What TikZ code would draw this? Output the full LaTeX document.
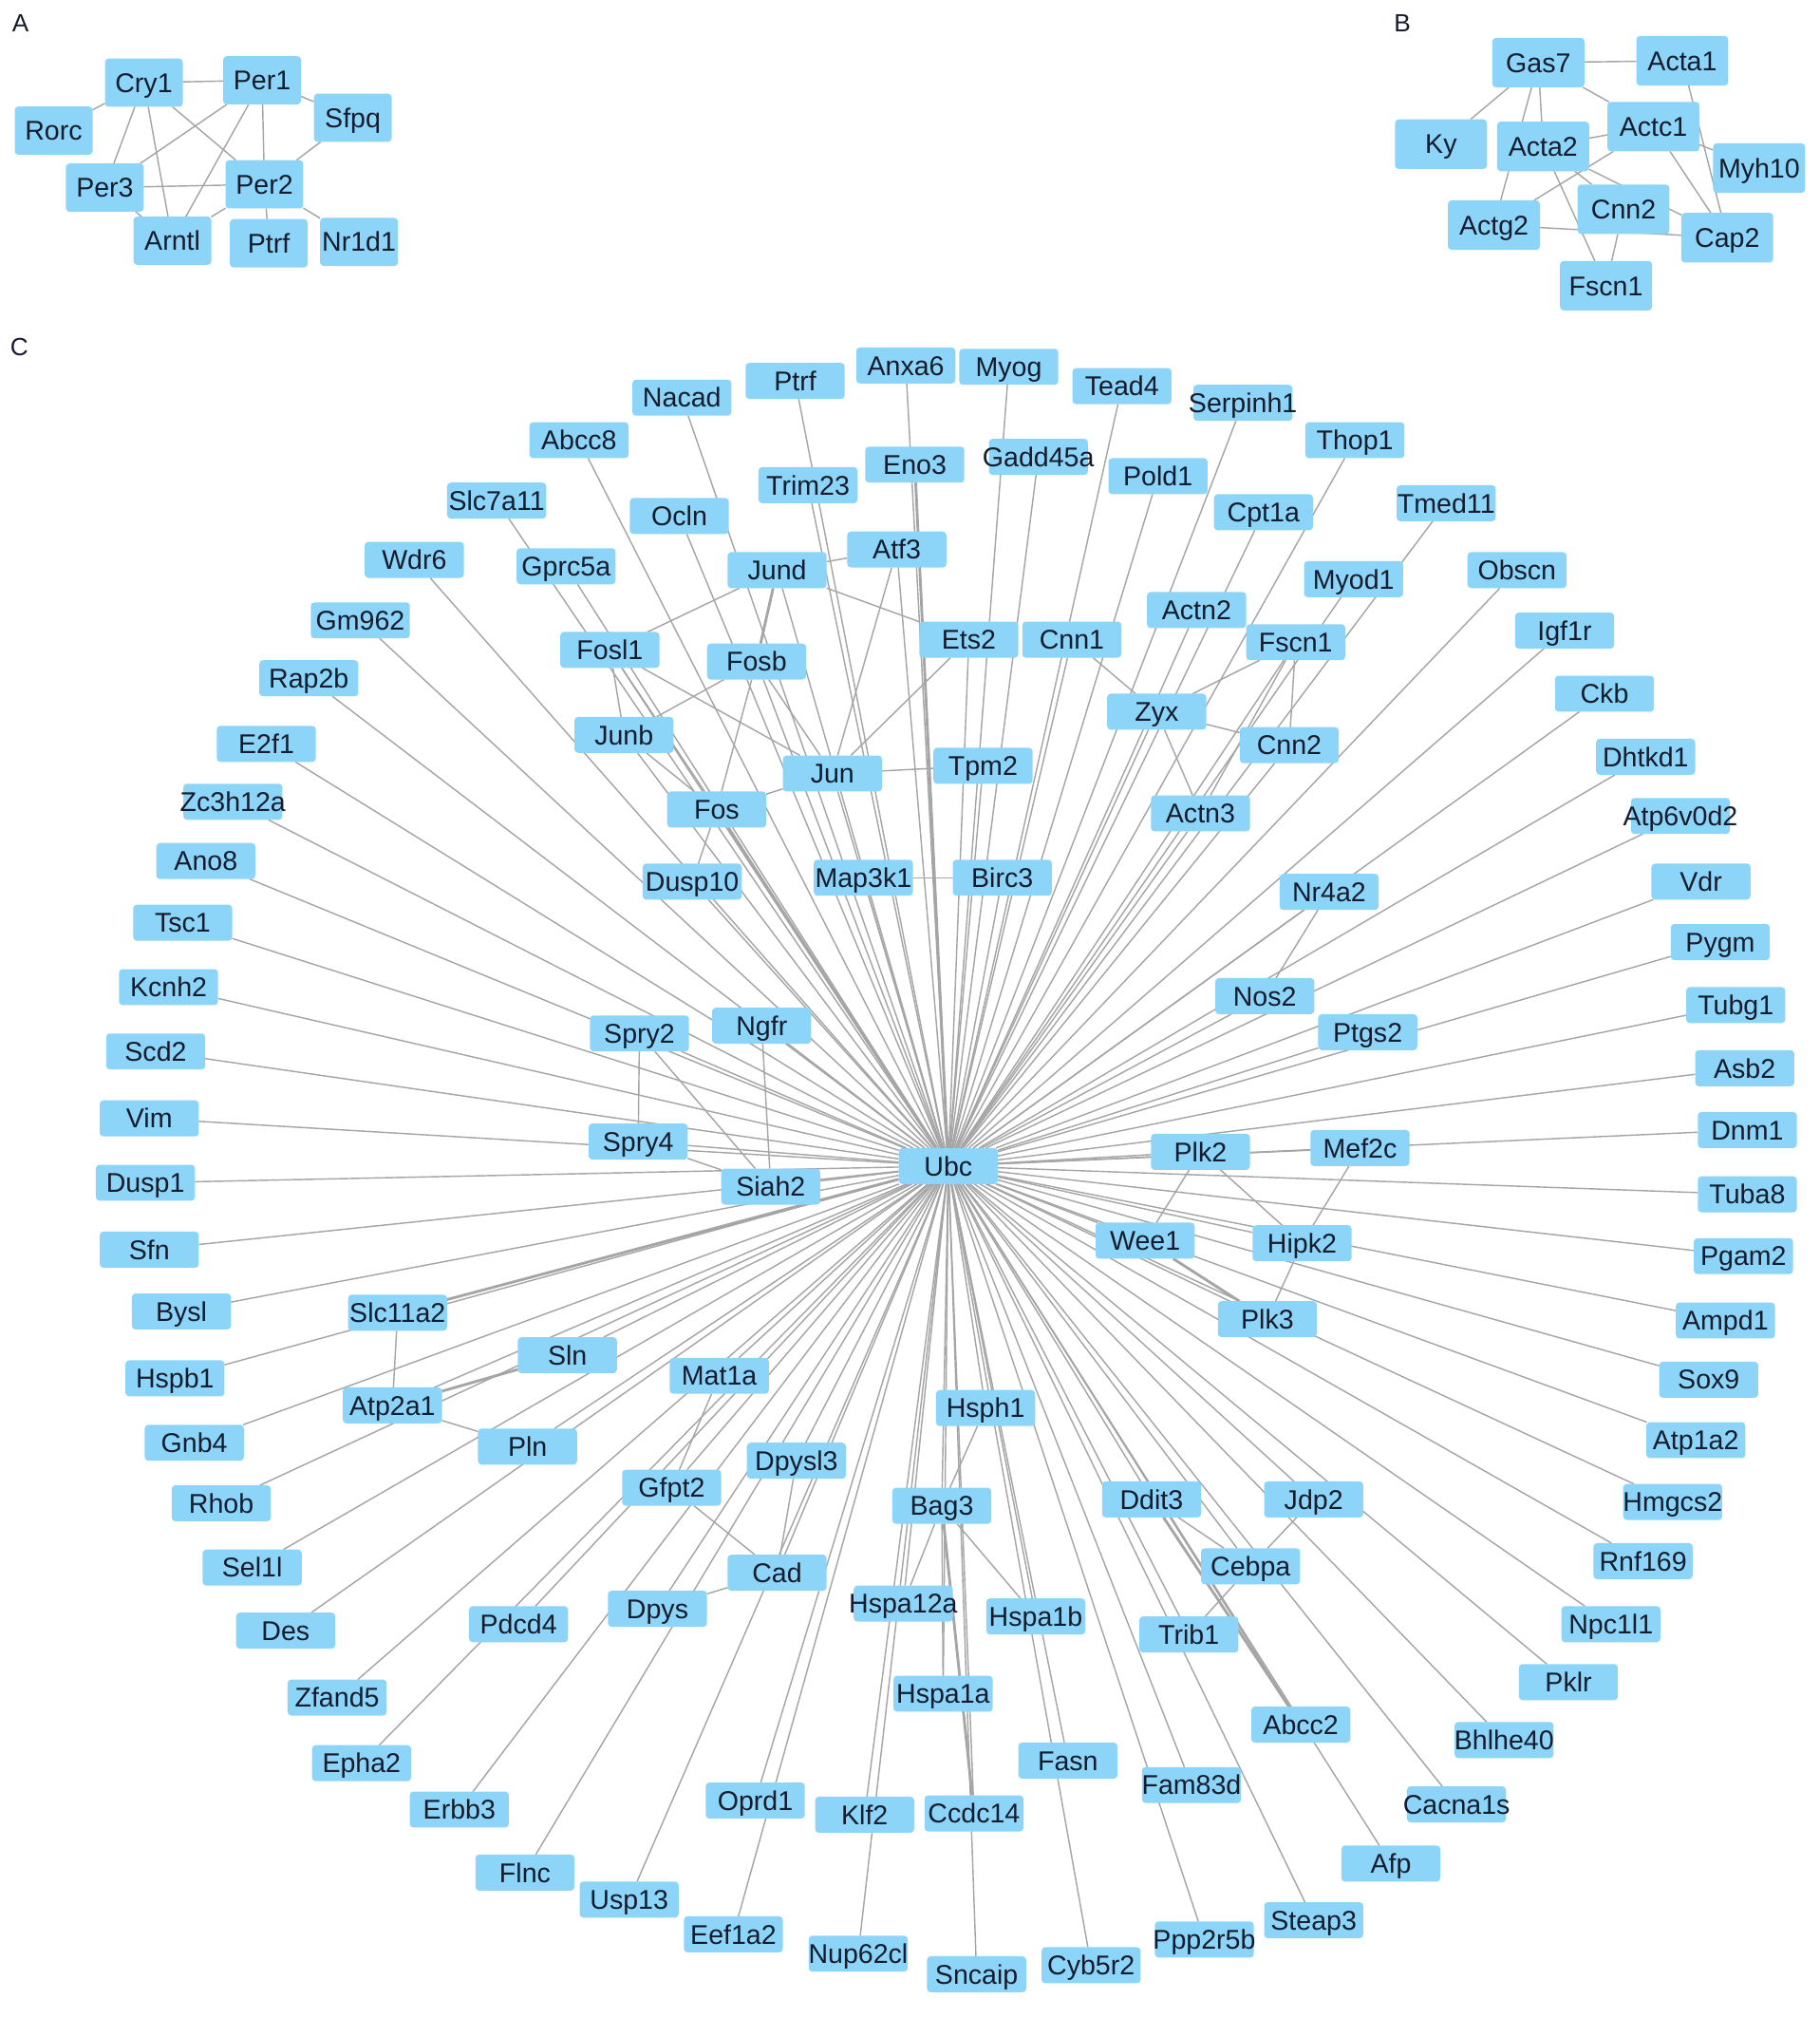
\documentclass[tikz,border=0pt]{standalone}
\usepackage{fontspec}
\setmainfont{Liberation Sans}
\usetikzlibrary{backgrounds}
\definecolor{boxblue}{RGB}{140,213,249}
\definecolor{edgegray}{RGB}{165,165,165}
\definecolor{txt}{RGB}{20,28,45}
\tikzset{
  gbase/.style={rectangle, rounded corners=1.6pt, fill=boxblue, inner sep=0pt, outer sep=0pt, text=txt, font=\fontsize{12}{14}\selectfont, text height=0.40cm, text depth=0.10cm},
  cbox/.style={gbase, minimum width=1.54cm, minimum height=0.56cm},
  abox/.style={gbase, minimum width=1.21cm, minimum height=0.75cm},
  bbox/.style={gbase, minimum width=1.43cm, minimum height=0.77cm},
  edge/.style={draw=edgegray, line width=0.6pt},
  hedge/.style={draw=edgegray, line width=1.2pt},
  plabel/.style={font=\fontsize{11}{13}\selectfont, text=txt, inner sep=0pt}
}
\newcommand\mkC[2]{\node[cbox] (c#2) at (#1) {\makebox[0pt]{#2}};}
\newcommand\mkA[2]{\node[abox] (a#2) at (#1) {\makebox[0pt]{#2}};}
\newcommand\mkB[2]{\node[bbox] (b#2) at (#1) {\makebox[0pt]{#2}};}
\begin{document}
\begin{tikzpicture}[x=0.02cm, y=-0.02cm]
\useasboundingbox (0,0) rectangle (1414,1568);
% panel labels
\node[plabel] (pA) at (16,18) {A};
\node[plabel] (pB) at (1090,18) {B};
\node[plabel] (pC) at (15,270) {C};
% ---------- panel A
\mkA{111.8,64.2}{Cry1}
\mkA{203.7,62.4}{Per1}
\mkA{41.7,101.5}{Rorc}
\mkA{274.2,91.5}{Sfpq}
\mkA{81.5,145.8}{Per3}
\mkA{205.5,143.2}{Per2}
\mkA{134,187}{Arntl}
\mkA{208.9,189}{Ptrf}
\mkA{279,188}{Nr1d1}
% ---------- panel B
\mkB{1195.6,48.6}{Gas7}
\mkB{1307.5,47.2}{Acta1}
\mkB{1120,112}{Ky}
\mkB{1199.3,113.8}{Acta2}
\mkB{1285.1,98.4}{Actc1}
\mkB{1367.2,130.6}{Myh10}
\mkB{1161.1,174.9}{Actg2}
\mkB{1261.8,162.6}{Cnn2}
\mkB{1342.4,184.7}{Cap2}
\mkB{1248.2,222}{Fscn1}
% ---------- panel C outer ring
\mkC{618,296}{Ptrf}
\mkC{530,309}{Nacad}
\mkC{704,284}{Anxa6}
\mkC{784,285}{Myog}
\mkC{872,300}{Tead4}
\mkC{966,313}{Serpinh1}
\mkC{1053,342}{Thop1}
\mkC{1124,391}{Tmed11}
\mkC{1179,443}{Obscn}
\mkC{1216,490}{Igf1r}
\mkC{1247,539}{Ckb}
\mkC{1279,588}{Dhtkd1}
\mkC{1306,634}{Atp6v0d2}
\mkC{1322,685}{Vdr}
\mkC{1337,732}{Pygm}
\mkC{1349,781}{Tubg1}
\mkC{1356,830}{Asb2}
\mkC{1358,878}{Dnm1}
\mkC{1358,928}{Tuba8}
\mkC{1355,976}{Pgam2}
\mkC{1341,1026}{Ampd1}
\mkC{1328,1072}{Sox9}
\mkC{1318,1119}{Atp1a2}
\mkC{1300,1167}{Hmgcs2}
\mkC{1277,1213}{Rnf169}
\mkC{1252,1262}{Npc1l1}
\mkC{1219,1307}{Pklr}
\mkC{1169,1352}{Bhlhe40}
\mkC{1132,1402}{Cacna1s}
\mkC{1081,1448}{Afp}
\mkC{1021,1492}{Steap3}
\mkC{936,1507}{Ppp2r5b}
\mkC{848,1527}{Cyb5r2}
\mkC{759,1534}{Sncaip}
\mkC{667,1518}{Nup62cl}
\mkC{570,1503}{Eef1a2}
\mkC{489,1476}{Usp13}
\mkC{408,1455}{Flnc}
\mkC{357,1406}{Erbb3}
\mkC{281,1370}{Epha2}
\mkC{262,1319}{Zfand5}
\mkC{222,1267}{Des}
\mkC{196,1218}{Sel1l}
\mkC{172,1168}{Rhob}
\mkC{151,1121}{Gnb4}
\mkC{136,1071}{Hspb1}
\mkC{141,1019}{Bysl}
\mkC{116,971}{Sfn}
\mkC{113,919}{Dusp1}
\mkC{116,869}{Vim}
\mkC{121,817}{Scd2}
\mkC{131,767}{Kcnh2}
\mkC{142,717}{Tsc1}
\mkC{160,669}{Ano8}
\mkC{181,623}{Zc3h12a}
\mkC{207,578}{E2f1}
\mkC{240,527}{Rap2b}
\mkC{280,482}{Gm962}
\mkC{322,435}{Wdr6}
\mkC{386,389}{Slc7a11}
\mkC{450,342}{Abcc8}
% ---------- panel C inner
\mkC{628,377}{Trim23}
\mkC{711,361}{Eno3}
\mkC{807,355}{Gadd45a}
\mkC{900,370}{Pold1}
\mkC{982,398}{Cpt1a}
\mkC{528,401}{Ocln}
\mkC{440,440}{Gprc5a}
\mkC{604,443}{Jund}
\mkC{697,427}{Atf3}
\mkC{1052,450}{Myod1}
\mkC{930,474}{Actn2}
\mkC{1007,499}{Fscn1}
\mkC{474,505}{Fosl1}
\mkC{588,514}{Fosb}
\mkC{753,497}{Ets2}
\mkC{833,497}{Cnn1}
\mkC{899,553}{Zyx}
\mkC{1002,579}{Cnn2}
\mkC{485,571}{Junb}
\mkC{647,601}{Jun}
\mkC{764,595}{Tpm2}
\mkC{557,629}{Fos}
\mkC{933,632}{Actn3}
\mkC{538,685}{Dusp10}
\mkC{671,682}{Map3k1}
\mkC{779,682}{Birc3}
\mkC{1033,693}{Nr4a2}
\mkC{983,774}{Nos2}
\mkC{1063,802}{Ptgs2}
\mkC{497,803}{Spry2}
\mkC{592,797}{Ngfr}
\mkC{496,887}{Spry4}
\mkC{599,922}{Siah2}
\mkC{737,906}{Ubc}
\mkC{933,895}{Plk2}
\mkC{1057,892}{Mef2c}
\mkC{890,964}{Wee1}
\mkC{1012,966}{Hipk2}
\mkC{985,1025}{Plk3}
\mkC{309,1020}{Slc11a2}
\mkC{441,1053}{Sln}
\mkC{559,1069}{Mat1a}
\mkC{305,1092}{Atp2a1}
\mkC{410,1124}{Pln}
\mkC{766,1094}{Hsph1}
\mkC{619,1135}{Dpysl3}
\mkC{522,1156}{Gfpt2}
\mkC{732,1170}{Bag3}
\mkC{895,1165}{Ddit3}
\mkC{1021,1165}{Jdp2}
\mkC{604,1222}{Cad}
\mkC{972,1217}{Cebpa}
\mkC{511,1250}{Dpys}
\mkC{702,1246}{Hspa12a}
\mkC{805,1256}{Hspa1b}
\mkC{403,1262}{Pdcd4}
\mkC{924,1270}{Trib1}
\mkC{733,1316}{Hspa1a}
\mkC{1011,1340}{Abcc2}
\mkC{830,1368}{Fasn}
\mkC{926,1387}{Fam83d}
\mkC{587,1399}{Oprd1}
\mkC{672,1410}{Klf2}
\mkC{757,1409}{Ccdc14}
% ---------- edges
\begin{scope}[on background layer]
\fill[white] (0,0) rectangle (1414,1568);
% A
\foreach \s/\t in {Cry1/Per1, Cry1/Rorc, Cry1/Per3, Cry1/Arntl, Cry1/Per2, Per1/Per3, Per1/Arntl, Per1/Per2, Per1/Sfpq, Sfpq/Per2, Per3/Per2, Per3/Arntl, Per2/Arntl, Per2/Ptrf, Per2/Nr1d1}
  \draw[edge] (a\s) -- (a\t);
% B
\foreach \s/\t in {Gas7/Acta1, Gas7/Ky, Gas7/Actg2, Gas7/Acta2, Gas7/Actc1, Acta2/Actc1, Actc1/Actg2, Actc1/Cap2, Acta1/Cap2, Actc1/Myh10, Acta2/Cnn2, Acta2/Fscn1, Acta2/Cap2, Actg2/Cap2, Cnn2/Fscn1}
  \draw[edge] (b\s) -- (b\t);
% C hub
\foreach \n in {Ptrf, Nacad, Anxa6, Myog, Tead4, Serpinh1, Thop1, Tmed11, Obscn, Igf1r, Ckb, Dhtkd1, Atp6v0d2, Vdr, Pygm, Tubg1, Asb2, Dnm1, Tuba8, Pgam2, Ampd1, Sox9, Atp1a2, Hmgcs2, Rnf169, Npc1l1, Pklr, Bhlhe40, Cacna1s, Afp, Steap3, Ppp2r5b, Cyb5r2, Sncaip, Nup62cl, Eef1a2, Usp13, Flnc, Erbb3, Epha2, Zfand5, Des, Sel1l, Rhob, Gnb4, Hspb1, Bysl, Sfn, Dusp1, Vim, Scd2, Kcnh2, Tsc1, Ano8, Zc3h12a, E2f1, Rap2b, Gm962, Wdr6, Slc7a11, Abcc8,
  Trim23, Gadd45a, Pold1, Cpt1a, Ocln, Gprc5a, Jund, Atf3, Myod1, Actn2, Fscn1, Fosl1, Fosb, Ets2, Cnn1, Zyx, Cnn2, Junb, Jun, Tpm2, Actn3, Dusp10, Map3k1, Birc3, Nr4a2, Nos2, Ptgs2, Spry2, Ngfr, Spry4, Siah2, Plk2, Mef2c, Wee1, Hipk2, Plk3, Sln, Mat1a, Atp2a1, Pln, Hsph1, Dpysl3, Gfpt2, Bag3, Ddit3, Jdp2, Cad, Cebpa, Dpys, Hspa12a, Hspa1b, Pdcd4, Trib1, Hspa1a, Abcc2, Fasn, Fam83d, Oprd1, Klf2, Ccdc14}
  \draw[edge] (c\n) -- (cUbc);
\foreach \n in {Eno3, Fos, Slc11a2}
  \draw[hedge] (c\n) -- (cUbc);
% C other
\foreach \s/\t in {Jund/Atf3, Jund/Fosl1, Jund/Ets2, Atf3/Jun, Fosl1/Junb, Fosl1/Jun, Fosl1/Fos, Fosb/Junb, Fosb/Fos, Fosb/Jun, Ets2/Jun, Jun/Tpm2, Jun/Fos, Fos/Junb, Fos/Dusp10, Map3k1/Birc3, Cnn1/Zyx, Fscn1/Zyx, Fscn1/Cnn2, Fscn1/Actn3, Zyx/Cnn2, Zyx/Actn3, Nr4a2/Nos2, Spry2/Spry4, Spry2/Siah2, Ngfr/Siah2, Spry4/Siah2, Plk2/Wee1, Plk2/Hipk2, Mef2c/Hipk2, Hipk2/Plk3, Slc11a2/Atp2a1, Atp2a1/Pln, Mat1a/Gfpt2, Gfpt2/Cad, Dpysl3/Cad, Cad/Dpys, Hsph1/Bag3, Bag3/Hspa12a, Bag3/Hspa1a, Bag3/Hspa1b, Ddit3/Cebpa, Jdp2/Cebpa, Cebpa/Trib1}
  \draw[edge] (c\s) -- (c\t);
\foreach \s/\t in {Jund/Fosb, Wee1/Plk3, Atp2a1/Sln, Bag3/Ccdc14, Ddit3/Abcc2}
  \draw[hedge] (c\s) -- (c\t);
\end{scope}
\end{tikzpicture}
\end{document}
